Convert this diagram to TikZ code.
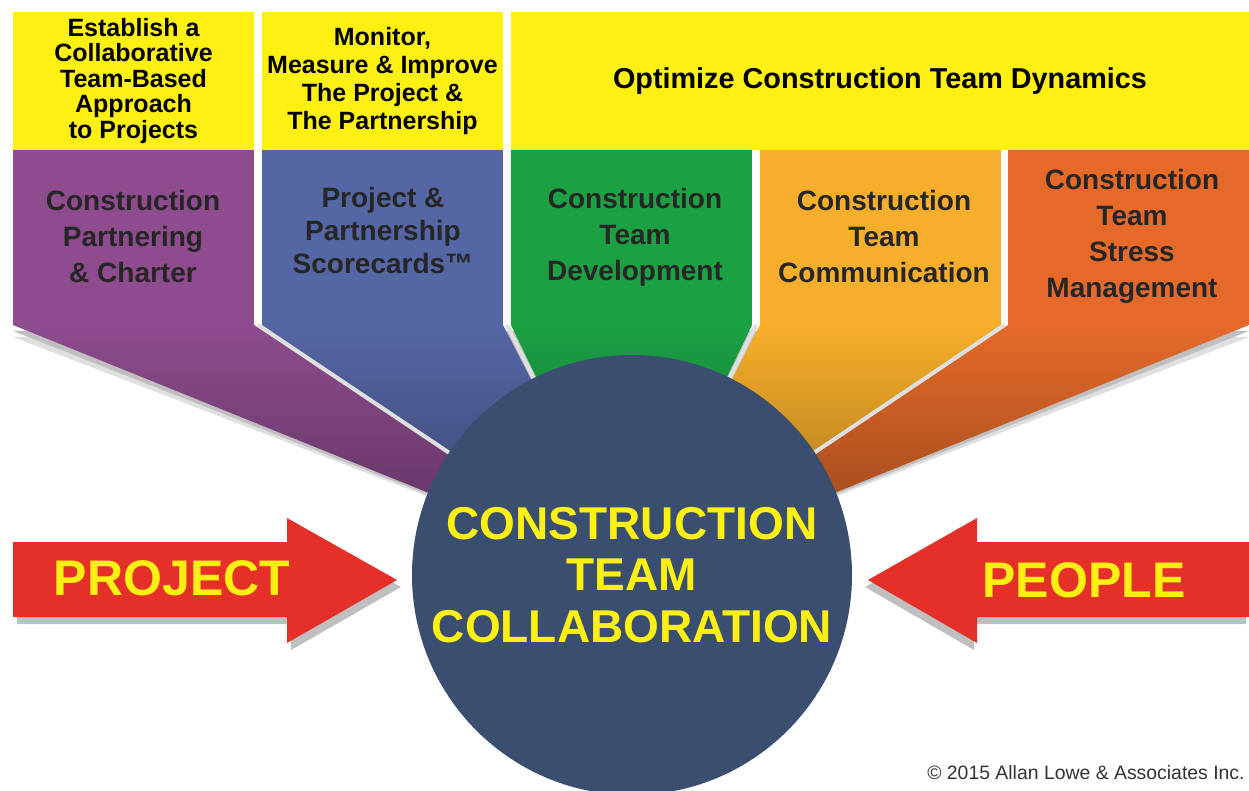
\documentclass[tikz,border=0pt]{standalone}
\usepackage{fontspec}
\setmainfont{Liberation Sans}
\usetikzlibrary{positioning}
\definecolor{ybox}{RGB}{255,240,20}
\definecolor{cpurple}{RGB}{142,76,142}
\definecolor{cblue}{RGB}{85,102,165}
\definecolor{cgreen}{RGB}{27,160,67}
\definecolor{corange}{RGB}{247,174,42}
\definecolor{cred}{RGB}{229,106,42}
\definecolor{cnavy}{RGB}{58,78,112}
\definecolor{carrow}{RGB}{229,48,42}
\begin{document}
\begin{tikzpicture}[x=0.5pt,y=-0.5pt]
		\tikzstyle{head}=[fill=ybox, text=black, align=center, inner sep=0pt, minimum height=69pt, font=\bfseries\fontsize{12.5}{14}\selectfont]
		\tikzstyle{col}=[text=black!85, align=center, font=\bfseries\fontsize{14}{18}\selectfont]
		\tikzstyle{sep}=[draw=gray!25, line width=2pt]
		\tikzstyle{shadow}=[fill=gray!50]
		\tikzstyle{bigarrow}=[fill=carrow]
		\tikzstyle{arrowtext}=[text=ybox, font=\bfseries\fontsize{25}{28}\selectfont]
		\useasboundingbox (0,0) rectangle (1249,791);
		\fill[white] (0,0) rectangle (1249,791);
		\coordinate (o) at (632,575);
		
		\fill[gray!25] (13,337) -- (o) -- (1249,337) -- cycle;
		\fill[shadow]  (13,331) -- (o) -- (1249,331) -- cycle;
		
		\foreach \xl/\xr/\c in {13/254/cpurple, 262/503/cblue, 511/752/cgreen, 760/1001/corange, 1008/1249/cred} {
			\fill[\c] (\xl,150) rectangle (\xr,325);
			\shade[top color=\c, bottom color=\c!62!black] (\xl,325) -- (\xr,325) -- (o) -- cycle;
		}
		\foreach \xs in {258, 507, 756, 1004.5}
			\draw[sep] (\xs,325) -- (o);
		
		\node[head, minimum width=120.5pt, font=\bfseries\fontsize{12.5}{12.75}\selectfont] (h1) at (133.5,81)
			{Establish a\\Collaborative\\Team-Based\\Approach\\to Projects};
		\node[head, minimum width=120.5pt] (h2) at (382.5,81)
			{Monitor,\\Measure \& Improve\\The Project \&\\The Partnership};
		\node[head, minimum width=369pt, font=\bfseries\fontsize{14.4}{16}\selectfont] (h3) at (880,81)
			{Optimize Construction Team Dynamics};
		
		\node[col] (pa) at (133,236) {Construction\\Partnering\\\& Charter};
		\node[col, font=\bfseries\fontsize{14}{16.5}\selectfont] (sc) at (383,230) {Project \&\\Partnership\\Scorecards™};
		\node[col] (dv) at (635,237) {Construction\\Team\\Development};
		\node[col] (cm) at (884,236) {Construction\\Team\\Communication};
		\node[col] (st) at (1132,236) {Construction\\Team\\Stress\\Management};
		
		\node[circle, fill=cnavy, minimum size=220pt, inner sep=0pt, text=ybox, align=center,
			font=\bfseries\fontsize{23}{25.75}\selectfont] (ctc) at (o) {CONSTRUCTION\\TEAM\\COLLABORATION};
		
		\fill[shadow] ([shift={(4,7)}]13,542) -- ++(274,0) -- ++(0,-24) -- ++(110,62) -- ++(-110,63) -- ++(0,-26) -- ++(-274,0) -- cycle;
		\fill[bigarrow] (13,542) -- (287,542) -- (287,518) -- (397,580) -- (287,643) -- (287,617) -- (13,617) -- cycle;
		\node[arrowtext] (pj) at (172,578) {PROJECT};
		
		\fill[shadow] ([shift={(-3,7)}]1249,542) -- ++(-272,0) -- ++(0,-24) -- ++(-109,62) -- ++(109,63) -- ++(0,-26) -- ++(272,0) -- cycle;
		\fill[bigarrow] (1249,542) -- (977,542) -- (977,518) -- (868,580) -- (977,643) -- (977,617) -- (1249,617) -- cycle;
		\node[arrowtext] (pp) at (1084,580) {PEOPLE};
		
		\node[anchor=east, inner sep=0pt, text=black!80, font=\fontsize{9.7}{11}\selectfont] (cr) at (1245,773) {© 2015 Allan Lowe \& Associates Inc.};
		
		\end{tikzpicture}
\end{document}
